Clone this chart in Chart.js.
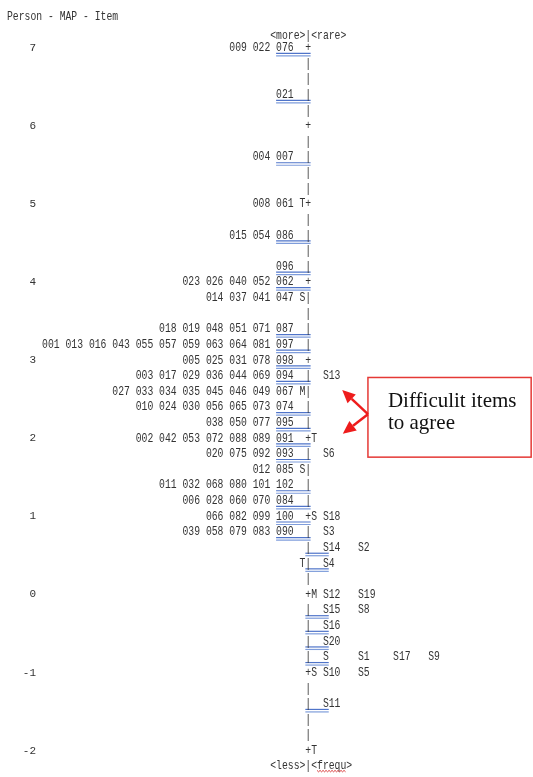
<!DOCTYPE html>
<html>
<head>
<meta charset="utf-8">
<script src="https://cdn.jsdelivr.net/npm/chart.js@4"></script>
<style>
html,body{margin:0;background:#fff}
#wrap{width:533px;height:777px}
</style>
</head>
<body>
<div id="wrap"><canvas id="map"></canvas></div>
<script>

// DATA (one text row = 0.2 logit)

const yTicks = [7, 6, 5, 4, 3, 2, 1, 0, -1, -2];

const rowMeasures = [7.0, 6.8, 6.6, 6.4, 6.2, 6.0, 5.8, 5.6, 5.4, 5.2, 5.0, 4.8, 4.6, 4.4, 4.2, 4.0,
  3.8, 3.6, 3.4, 3.2, 3.0, 2.8, 2.6, 2.4, 2.2, 2.0, 1.8, 1.6, 1.4, 1.2, 1.0, 0.8, 0.6, 0.4, 0.2,
  0.0, -0.2, -0.4, -0.6, -0.8, -1.0, -1.2, -1.4, -1.6, -1.8, -2.0];
const axisMarks = "+||||+||||+||||+||||+||||+||||+||||+||||+||||+".split("");

const personMeasures = [7.0, 6.4, 5.6, 5.0, 4.6, 4.2, 4.0, 3.8, 3.4, 3.2, 3.0, 2.8, 2.6, 2.4, 2.2,
  2.0, 1.8, 1.6, 1.4, 1.2, 1.0, 0.8];
const personLabels = [
  "009 022 076",
  "021",
  "004 007",
  "008 061",
  "015 054 086",
  "096",
  "023 026 040 052 062",
  "014 037 041 047",
  "018 019 048 051 071 087",
  "001 013 016 043 055 057 059 063 064 081 097",
  "005 025 031 078 098",
  "003 017 029 036 044 069 094",
  "027 033 034 035 045 046 049 067",
  "010 024 030 056 065 073 074",
  "038 050 077 095",
  "002 042 053 072 088 089 091",
  "020 075 092 093",
  "012 085",
  "011 032 068 080 101 102",
  "006 028 060 070 084",
  "066 082 099 100",
  "039 058 079 083 090"
];

const itemMeasures = [2.8, 1.8, 1.0, 0.8, 0.6, 0.4, 0.0, -0.2, -0.4, -0.6, -0.8, -1.0, -1.4];
const itemLabels = ["S13", "S6", "S18", "S3", "S14 S2", "S4", "S12 S19", "S15 S8", "S16", "S20",
  "S S1 S17 S9", "S10 S5", "S11"];

const personMarkMeasures = [5.0, 3.8, 2.6, 1.6, 0.4];
const personMarks = ["T", "S", "M", "S", "T"];
const itemMarkMeasures = [2.0, 1.0, 0.0, -1.0, -2.0];
const itemMarks = ["T", "S", "M", "S", "T"];

const underlinedPersonRows = [7.0, 6.4, 5.6, 4.6, 4.2, 4.0, 3.4, 3.2, 3.0, 2.8, 2.4, 2.2, 2.0, 1.8, 1.4, 1.2, 1.0, 0.8];
const underlinedItemRows = [0.6, 0.4, -0.2, -0.4, -0.6, -0.8, -1.4];

// text columns of the printout
const AXIS_COL = 51;
const FONT = "9.75px 'Liberation Mono', 'DejaVu Sans Mono', monospace";
const STRETCH = 1.25;

// BUILD POINTS

let personPts = [];
personMeasures.forEach(function(m, i){
  let toks = personLabels[i].split(" ");
  toks.forEach(function(t, j){
    personPts.push({x: AXIS_COL - 5 - 4 * (toks.length - 1 - j), y: m, t: t});
  });
});

let itemPts = [];
itemMeasures.forEach(function(m, i){
  itemLabels[i].split(" ").forEach(function(t, j){
    itemPts.push({x: AXIS_COL + 3 + 6 * j, y: m, t: t});
  });
});

let axisPts = rowMeasures.map(function(m, i){
  return {x: AXIS_COL, y: m, t: axisMarks[i]};
});
personMarkMeasures.forEach(function(m, i){
  axisPts.push({x: AXIS_COL - 1, y: m, t: personMarks[i]});
});
itemMarkMeasures.forEach(function(m, i){
  axisPts.push({x: AXIS_COL + 1, y: m, t: itemMarks[i]});
});

let headPts = [
  {x: 0, y: 7.394, t: "Person - MAP - Item"},
  {x: AXIS_COL - 6, y: 7.15, t: "<more>|<rare>"},
  {x: AXIS_COL - 6, y: -2.19, t: "<less>|<frequ>"}
];

// annotation, in map units (column, logit)
const note = {left: 61.7, right: 89.6, top: 2.78, bottom: 1.76, anchorY: 2.31,
  tips: [[57.3, 2.62], [57.4, 2.06]]};

function stretchedText(ctx, t, px, py){
  ctx.save();
  ctx.translate(px, py);
  ctx.scale(1, STRETCH);
  ctx.fillText(t, 0, 0);
  ctx.restore();
}

function arrow(ctx, x0, y0, x1, y1){
  let a = Math.atan2(y1 - y0, x1 - x0);
  let len = 13, w = 6;
  let bx = x1 - len * Math.cos(a), by = y1 - len * Math.sin(a);
  ctx.beginPath();
  ctx.moveTo(x0, y0);
  ctx.lineTo(bx, by);
  ctx.stroke();
  ctx.beginPath();
  ctx.moveTo(x1, y1);
  ctx.lineTo(bx + w * Math.sin(a), by - w * Math.cos(a));
  ctx.lineTo(bx - w * Math.sin(a), by + w * Math.cos(a));
  ctx.closePath();
  ctx.fill();
}

const mapText = {
  id: "mapText",
  afterDatasetsDraw(chart){
    const ctx = chart.ctx;
    const x = chart.scales.x, y = chart.scales.y;
    ctx.save();

    // underlines
    ctx.lineWidth = 1.2;
    function uline(c0, c1, m){
      let yy = y.getPixelForValue(m);
      ctx.strokeStyle = "#4f74c9";
      ctx.beginPath();
      ctx.moveTo(x.getPixelForValue(c0), yy + 5.5);
      ctx.lineTo(x.getPixelForValue(c1), yy + 5.5);
      ctx.stroke();
      ctx.strokeStyle = "#7f9ddb";
      ctx.beginPath();
      ctx.moveTo(x.getPixelForValue(c0), yy + 8);
      ctx.lineTo(x.getPixelForValue(c1), yy + 8);
      ctx.stroke();
    }
    underlinedPersonRows.forEach(function(m){ uline(AXIS_COL - 5, AXIS_COL + 0.9, m); });
    underlinedItemRows.forEach(function(m){ uline(AXIS_COL, AXIS_COL + 4, m); });

    // all printout text
    ctx.font = FONT;
    ctx.fillStyle = "#333";
    ctx.textAlign = "left";
    ctx.textBaseline = "middle";
    chart.data.datasets.forEach(function(ds, i){
      chart.getDatasetMeta(i).data.forEach(function(pt, j){
        stretchedText(ctx, ds.data[j].t, pt.x, pt.y);
      });
    });

    // spell-check squiggle under "frequ"
    let sy = y.getPixelForValue(-2.19) + 5;
    ctx.strokeStyle = "#d83a3a";
    ctx.lineWidth = 1;
    ctx.beginPath();
    let sx0 = x.getPixelForValue(AXIS_COL + 2), sx1 = x.getPixelForValue(AXIS_COL + 7);
    for(let sx = sx0, k = 0; sx <= sx1; sx += 1.5, k++){
      let yy = sy + (k % 2 ? 1.2 : -0.2);
      if(k === 0) ctx.moveTo(sx, yy); else ctx.lineTo(sx, yy);
    }
    ctx.stroke();

    // callout box
    let L = x.getPixelForValue(note.left), R = x.getPixelForValue(note.right);
    let T = y.getPixelForValue(note.top), B = y.getPixelForValue(note.bottom);
    ctx.strokeStyle = "#e53935";
    ctx.lineWidth = 1.5;
    ctx.strokeRect(L, T, R - L, B - T);
    ctx.fillStyle = "#111";
    ctx.font = "21px 'Liberation Serif', 'Times New Roman', serif";
    ctx.textBaseline = "alphabetic";
    ctx.fillText("Difficulit items", L + 20, T + 30);
    ctx.fillText("to agree", L + 20, T + 52);

    // arrows
    ctx.strokeStyle = "#ee1c1c";
    ctx.fillStyle = "#ee1c1c";
    ctx.lineWidth = 2.5;
    let ay = y.getPixelForValue(note.anchorY);
    note.tips.forEach(function(tp){
      arrow(ctx, L, ay, x.getPixelForValue(tp[0]), y.getPixelForValue(tp[1]));
    });

    ctx.restore();
  }
};

// CHART

new Chart(
document.getElementById("map"),
{
type: "scatter",
data: {
  datasets: [
    {label: "Persons", data: personPts},
    {label: "Items", data: itemPts},
    {label: "Axis", data: axisPts},
    {label: "Heads", data: headPts}
  ]
},
options: {
  responsive: true,
  maintainAspectRatio: false,
  animation: false,
  events: [],
  layout: {padding: {top: 32.3, bottom: 5.3, left: 0, right: 0}},
  elements: {point: {radius: 0, hoverRadius: 0}},
  plugins: {legend: {display: false}, tooltip: {enabled: false}},
  scales: {
    x: {
      type: "linear",
      display: false,
      min: 5.641,
      max: 89.915
    },
    y: {
      type: "linear",
      min: -2.2,
      max: 7.2,
      afterBuildTicks: function(s){ s.ticks = yTicks.map(function(v){ return {value: v}; }); },
      afterFit: function(s){ s.width = 40; },
      grid: {display: false, drawTicks: false},
      border: {display: false},
      ticks: {
        padding: 4,
        color: "#333",
        font: {family: "'Liberation Mono', monospace", size: 11}
      }
    }
  }
},
plugins: [mapText]
}
);

</script>
</body>
</html>
